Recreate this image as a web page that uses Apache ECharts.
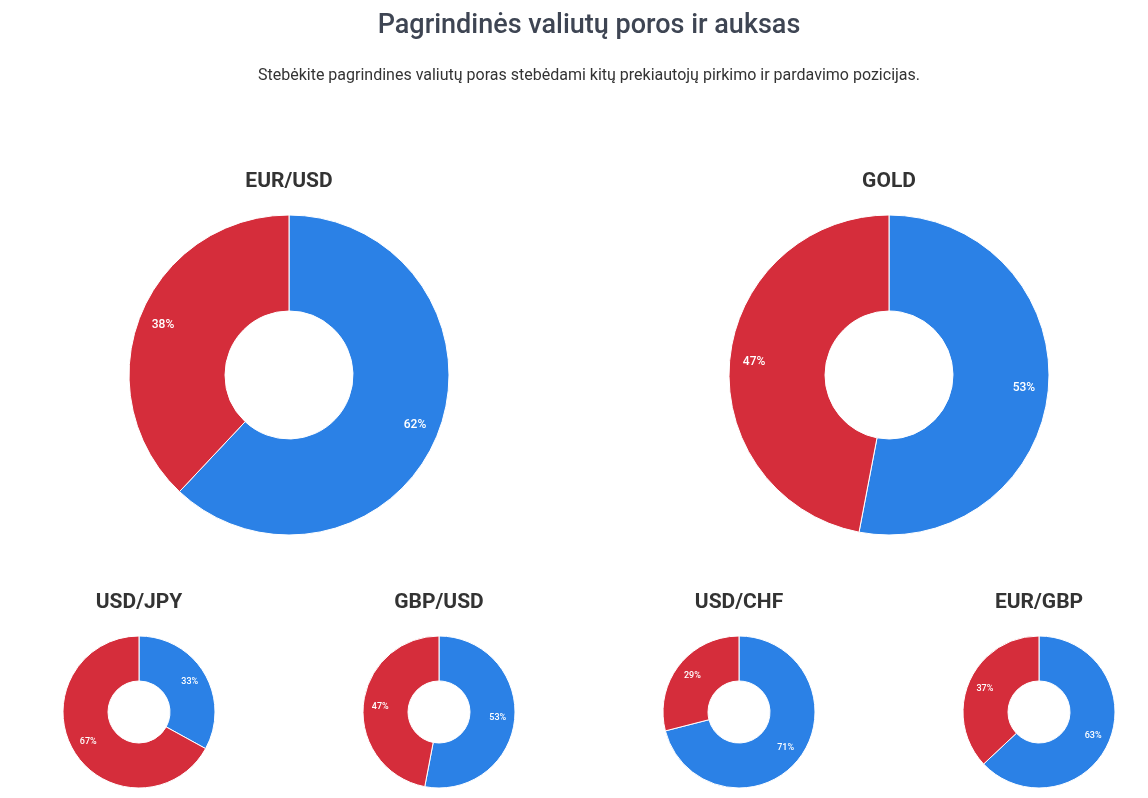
<!DOCTYPE html>
<html>
<head>
<meta charset="utf-8">
<script src="https://cdn.jsdelivr.net/npm/echarts@6/dist/echarts.min.js"></script>
<style>
  html, body { margin: 0; padding: 0; background: #fff; }
  #chart { width: 1148px; height: 798px; }
</style>
</head>
<body>
<div id="chart"></div>
<script>
// pairs and buy/sell shares (percent)
var pairs = ['EUR/USD', 'GOLD', 'USD/JPY', 'GBP/USD', 'USD/CHF', 'EUR/GBP'];
var buyValues = [62, 53, 33, 53, 71, 63];
var sellValues = [38, 47, 67, 47, 29, 37];
var sideNames = ['Pirkimas', 'Pardavimas'];

var colors = ['#2b81e6', '#d52d3b'];

// layout for each donut
var centers = [[289, 375], [889, 375], [139, 712], [439, 712], [739, 712], [1039, 712]];
var big = { radius: [64, 160], labelRing: [105, 160], font: 12, titleY: 171 };
var small = { radius: [31, 76], labelRing: [36, 76], font: 9, titleY: 592 };

var myChart = echarts.init(document.getElementById('chart'));

var titles = [
    {
        text: 'Pagrindinės valiutų poros ir auksas',
        left: 589, top: 13, textAlign: 'center', padding: 0,
        textStyle: { fontFamily: 'Roboto', fontSize: 27, fontWeight: 500, color: '#3e4553' }
    },
    {
        text: 'Stebėkite pagrindines valiutų poras stebėdami kitų prekiautojų pirkimo ir pardavimo pozicijas.',
        left: 589, top: 68, textAlign: 'center', padding: 0,
        textStyle: { fontFamily: 'Roboto', fontSize: 16, fontWeight: 400, color: '#333' }
    }
];
var series = [];

for (var i = 0; i < pairs.length; i++) {
    var cfg = i < 2 ? big : small;
    var data = [
        { name: sideNames[0], value: buyValues[i] },
        { name: sideNames[1], value: sellValues[i] }
    ];
    titles.push({
        text: pairs[i],
        left: centers[i][0], top: cfg.titleY, textAlign: 'center', padding: 0,
        textStyle: { fontFamily: 'Roboto', fontSize: 21, fontWeight: 'bold', color: '#333' }
    });
    // the ring itself
    series.push({
        type: 'pie',
        name: pairs[i],
        center: centers[i],
        radius: cfg.radius,
        startAngle: 90,
        clockwise: true,
        silent: true,
        color: colors,
        itemStyle: { borderColor: '#fff', borderWidth: 1 },
        label: { show: false },
        labelLine: { show: false },
        data: data
    });
    // transparent ring only used to place the % labels
    series.push({
        type: 'pie',
        name: pairs[i] + ' labels',
        center: centers[i],
        radius: cfg.labelRing,
        startAngle: 90,
        clockwise: true,
        silent: true,
        itemStyle: { color: 'transparent', borderWidth: 0 },
        label: {
            show: true,
            position: 'inside',
            formatter: '{c}%',
            color: '#fff',
            fontFamily: 'Roboto',
            fontSize: cfg.font,
            fontWeight: 500
        },
        labelLine: { show: false },
        emphasis: { disabled: true },
        data: data
    });
}

var option = {
    animation: false,
    title: titles,
    series: series
};
myChart.setOption(option);
</script>
</body>
</html>
